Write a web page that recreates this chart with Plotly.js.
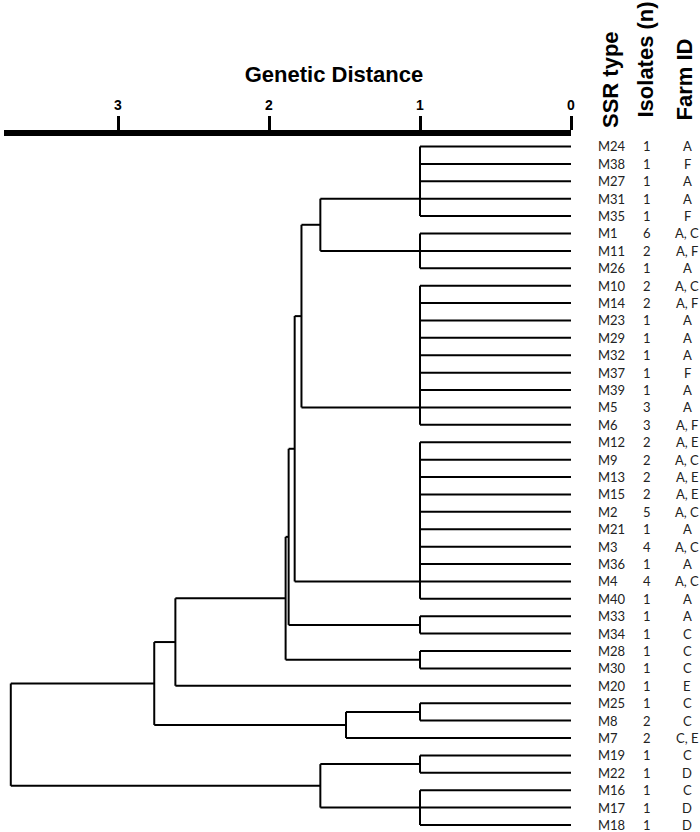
<!DOCTYPE html>
<html>
<head>
<meta charset="utf-8">
<script src="https://cdn.plot.ly/plotly-3.0.1.min.js"></script>
<style>html,body{margin:0;padding:0;background:#fff;}#chart{width:700px;height:832px;}</style>
</head>
<body>
<div id="chart"></div>
<script>
// ---- data (top to bottom) ----
const ssrTypes = ["M24","M38","M27","M31","M35","M1","M11","M26","M10","M14","M23","M29","M32","M37","M39","M5","M6","M12","M9","M13","M15","M2","M21","M3","M36","M4","M40","M33","M34","M28","M30","M20","M25","M8","M7","M19","M22","M16","M17","M18"];
const isolates = [1,1,1,1,1,6,2,1,2,2,1,1,1,1,1,3,3,2,2,2,2,5,1,4,1,4,1,1,1,1,1,1,1,2,2,1,1,1,1,1];
const farmIds = ["A","F","A","A","F","A, C","A, F","A","A, C","A, F","A","A","A","F","A","A","A, F","A, E","A, C","A, E","A, E","A, C","A","A, C","A","A, C","A","A","C","C","C","E","C","C","C, E","C","D","C","D","D"];

// clusters (merge order) and the genetic distance at which each one joins
const mergeChildren = [
  ["M24","M38","M27","M31","M35"],                        // n0
  ["M1","M11","M26"],                                      // n1
  ["n0","n1"],                                             // n2
  ["M10","M14","M23","M29","M32","M37","M39","M5","M6"],  // n3
  ["n2","n3"],                                             // n4
  ["M12","M9","M13","M15","M2","M21","M3","M36","M4","M40"], // n5
  ["n4","n5"],                                             // n6
  ["M33","M34"],                                           // n7
  ["n6","n7"],                                             // n8
  ["M28","M30"],                                           // n9
  ["n8","n9"],                                             // n10
  ["n10","M20"],                                           // n11
  ["M25","M8"],                                            // n12
  ["n12","M7"],                                            // n13
  ["n11","n13"],                                           // n14
  ["M19","M22"],                                           // n15
  ["M16","M17","M18"],                                     // n16
  ["n15","n16"],                                           // n17
  ["n14","n17"]                                            // n18 (root)
];
const mergeHeights = [1.0,1.0,1.66,1.0,1.785,1.0,1.83,1.0,1.87,1.0,1.89,2.62,1.0,1.49,2.76,1.0,1.0,1.66,3.71];

const distTicks = [0,1,2,3];
const headers = ["SSR type","Isolates (n)","Farm ID"];

// ---- build dendrogram segments ----
const pos = {};
ssrTypes.forEach((n,i)=>{ pos[n] = {x:0, y:i}; });
const lx = [], ly = [];
mergeChildren.forEach((ch,k)=>{
  const h = mergeHeights[k];
  const ps = ch.map(c=>pos[c]);
  const ys = ps.map(p=>p.y);
  let ny;
  if (ps.length === 2) ny = (ys[0]+ys[1])/2;
  else ny = ys[ys.length-2];
  ps.forEach(p=>{ lx.push(p.x, h, null); ly.push(p.y, p.y, null); });
  lx.push(h, h, null); ly.push(Math.min(...ys), Math.max(...ys), null);
  pos["n"+k] = {x:h, y:ny};
});

const traces = [{
  type:'scatter', mode:'lines', x:lx, y:ly,
  line:{color:'#000', width:2}, hoverinfo:'skip', showlegend:false
}];

// ---- layout ----
const W = 700, H = 832;
const mL = 4, mR = 129, mT = 135.5, mB = 5;
const plotH = H - mT - mB, plotW = W - mL - mR;
const rowPx = 17.41, firstRowPx = 146;
const yTop = (mT - firstRowPx)/rowPx;
const yBot = (H - mB - firstRowPx)/rowPx;
const px2paperX = px => (px - mL)/plotW;
const px2paperY = py => (H - mB - py)/plotH;

const labelFont = {family:'Lato, "Open Sans", sans-serif', size:13, color:'#222'};
const annotations = [];
ssrTypes.forEach((n,i)=>{
  annotations.push({xref:'paper', yref:'y', x:px2paperX(596), y:i, xanchor:'left', yanchor:'middle', text:n, showarrow:false, font:labelFont});
  annotations.push({xref:'paper', yref:'y', x:px2paperX(647), y:i, xanchor:'center', yanchor:'middle', text:String(isolates[i]), showarrow:false, font:labelFont});
  annotations.push({xref:'paper', yref:'y', x:px2paperX(687), y:i, xanchor:'center', yanchor:'middle', text:farmIds[i], showarrow:false, font:labelFont});
});
const hdrX = [610, 646, 685], hdrBottom = [130, 119, 122];
headers.forEach((t,j)=>{
  annotations.push({xref:'paper', yref:'paper', x:px2paperX(hdrX[j]), y:px2paperY(hdrBottom[j]),
    xanchor:'center', yanchor:'bottom', textangle:-90, text:t, showarrow:false,
    font:{family:'"Liberation Sans", Arial, sans-serif', size:22, color:'#000', weight:'bold'}});
});

const layout = {
  width:W, height:H,
  margin:{l:mL, r:mR, t:mT, b:mB, pad:0},
  paper_bgcolor:'#fff', plot_bgcolor:'#fff',
  showlegend:false,
  title:{text:'Genetic Distance', xref:'container', yref:'container', x:334/W, y:1-74/H,
    xanchor:'center', yanchor:'middle',
    font:{family:'"Liberation Sans", Arial, sans-serif', size:22, color:'#000', weight:'bold'}},
  xaxis:{side:'top', range:[3.755, 0], autorange:false, showgrid:false, zeroline:false,
    showline:true, linewidth:6, linecolor:'#000',
    ticks:'outside', ticklen:14, tickwidth:3, tickcolor:'#000',
    tickmode:'array', tickvals:distTicks, ticktext:distTicks.map(String),
    tickfont:{family:'"Liberation Sans", Arial, sans-serif', size:14, color:'#000', weight:'bold'},
    fixedrange:true},
  yaxis:{range:[yBot, yTop], autorange:false, visible:false, showgrid:false, zeroline:false, fixedrange:true},
  annotations:annotations
};

Plotly.newPlot('chart', traces, layout, {staticPlot:true, displayModeBar:false});
</script>
</body>
</html>
